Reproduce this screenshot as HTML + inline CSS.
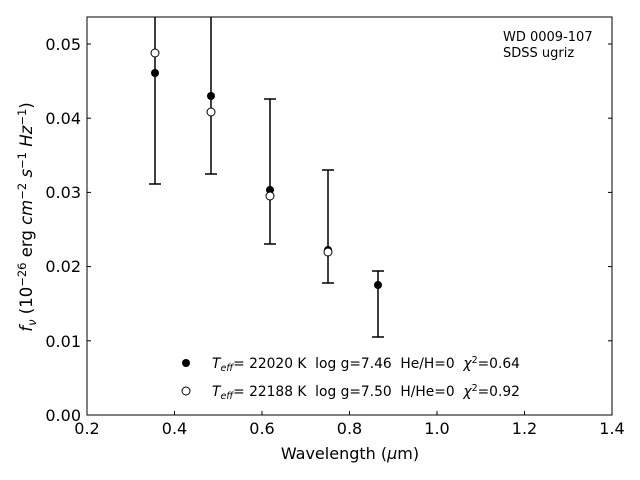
<!DOCTYPE html>
<html><head><meta charset="utf-8"><style>body{margin:0;background:#fff}svg{display:block}text{font-family:"DejaVu Sans","Liberation Sans",sans-serif;white-space:pre}</style></head><body>
<svg width="640" height="480" viewBox="0 0 640 480" xmlns="http://www.w3.org/2000/svg" xml:space="preserve">
<defs><clipPath id="c"><rect x="87" y="17" width="525" height="398"/></clipPath></defs>
<rect width="640" height="480" fill="#fff"/>
<g clip-path="url(#c)" stroke="#000" stroke-width="1.5">
<line x1="155" y1="10" x2="155" y2="184"/><line x1="149" y1="184" x2="161" y2="184"/>
<line x1="211" y1="10" x2="211" y2="174"/><line x1="205" y1="174" x2="217" y2="174"/>
<line x1="270" y1="99" x2="270" y2="244"/><line x1="264" y1="99" x2="276" y2="99"/><line x1="264" y1="244" x2="276" y2="244"/>
<line x1="328" y1="170" x2="328" y2="283"/><line x1="322" y1="170" x2="334" y2="170"/><line x1="322" y1="283" x2="334" y2="283"/>
<line x1="378" y1="271" x2="378" y2="337"/><line x1="372" y1="271" x2="384" y2="271"/><line x1="372" y1="337" x2="384" y2="337"/>
</g>
<g fill="#000">
<circle cx="155" cy="73" r="4"/><circle cx="211" cy="96" r="4"/><circle cx="270" cy="190" r="4"/><circle cx="328" cy="250" r="4"/><circle cx="378" cy="285" r="4"/>
</g>
<g fill="#fff" stroke="#000" stroke-width="1">
<circle cx="155" cy="53" r="4"/><circle cx="211" cy="112" r="4"/><circle cx="270" cy="196" r="4"/><circle cx="328" cy="252" r="4"/>
</g>
<rect x="87" y="17" width="525" height="398" fill="none" stroke="#000" stroke-width="1"/>
<g stroke="#000" stroke-width="1">
<line x1="87" y1="415" x2="87" y2="411"/><line x1="174.5" y1="415" x2="174.5" y2="411"/><line x1="262" y1="415" x2="262" y2="411"/><line x1="349.5" y1="415" x2="349.5" y2="411"/><line x1="437" y1="415" x2="437" y2="411"/><line x1="524.5" y1="415" x2="524.5" y2="411"/><line x1="612" y1="415" x2="612" y2="411"/>
<line x1="87" y1="415" x2="91" y2="415"/><line x1="87" y1="340.8" x2="91" y2="340.8"/><line x1="87" y1="266.6" x2="91" y2="266.6"/><line x1="87" y1="192.4" x2="91" y2="192.4"/><line x1="87" y1="118.2" x2="91" y2="118.2"/><line x1="87" y1="44" x2="91" y2="44"/>
<line x1="612" y1="340.8" x2="608" y2="340.8"/><line x1="612" y1="266.6" x2="608" y2="266.6"/><line x1="612" y1="192.4" x2="608" y2="192.4"/><line x1="612" y1="118.2" x2="608" y2="118.2"/><line x1="612" y1="44" x2="608" y2="44"/>
</g>
<g font-size="16" text-anchor="middle">
<text x="87" y="434">0.2</text><text x="174.5" y="434">0.4</text><text x="262" y="434">0.6</text><text x="349.5" y="434">0.8</text><text x="437" y="434">1.0</text><text x="524.5" y="434">1.2</text><text x="612" y="434">1.4</text>
</g>
<g font-size="16" text-anchor="end">
<text x="81" y="421">0.00</text><text x="81" y="347">0.01</text><text x="81" y="272">0.02</text><text x="81" y="198">0.03</text><text x="81" y="124">0.04</text><text x="81" y="50">0.05</text>
</g>
<text x="350" y="459" font-size="16" text-anchor="middle">Wavelength (<tspan font-style="italic">μ</tspan>m)</text>
<text transform="translate(32,217) rotate(-90)" font-size="16.5" text-anchor="middle"><tspan font-style="italic">f</tspan><tspan font-size="11.5" dy="4" font-style="italic">ν</tspan><tspan dy="-4"> (10</tspan><tspan font-size="11.5" dy="-6">−26</tspan><tspan dy="6"> erg </tspan><tspan font-style="italic">cm</tspan><tspan font-size="11.5" dy="-6">−2</tspan><tspan dy="6" font-style="italic"> s</tspan><tspan font-size="11.5" dy="-6">−1</tspan><tspan dy="6" font-style="italic"> Hz</tspan><tspan font-size="11.5" dy="-6">−1</tspan><tspan dy="6">)</tspan></text>
<text x="503" y="41" font-size="13">WD 0009-107</text>
<text x="503" y="57" font-size="13">SDSS ugriz</text>
<circle cx="186" cy="363" r="4" fill="#000"/>
<circle cx="186" cy="391" r="4" fill="#fff" stroke="#000"/>
<text x="212" y="368" font-size="13.8"><tspan font-style="italic">T</tspan><tspan font-size="9.5" dy="3" font-style="italic">eff</tspan><tspan dy="-3">= 22020 K  log g=7.46  He/H=0  </tspan><tspan font-style="italic">χ</tspan><tspan font-size="9.5" dy="-5">2</tspan><tspan dy="5">=0.64</tspan></text>
<text x="212" y="396" font-size="13.8"><tspan font-style="italic">T</tspan><tspan font-size="9.5" dy="3" font-style="italic">eff</tspan><tspan dy="-3">= 22188 K  log g=7.50  H/He=0  </tspan><tspan font-style="italic">χ</tspan><tspan font-size="9.5" dy="-5">2</tspan><tspan dy="5">=0.92</tspan></text>
</svg>
</body></html>
